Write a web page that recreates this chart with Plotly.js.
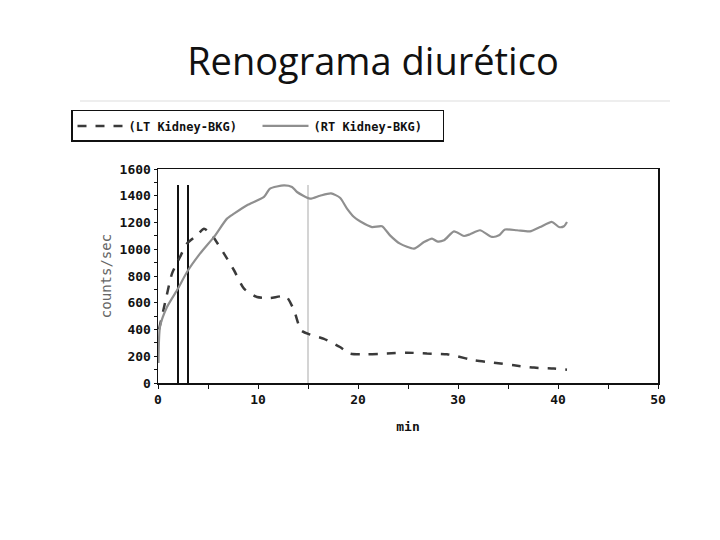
<!DOCTYPE html>
<html>
<head>
<meta charset="utf-8">
<script src="https://cdn.plot.ly/plotly-3.0.1.min.js"></script>
<style>html,body{margin:0;padding:0;background:#fff;}#chart{width:720px;height:540px;}</style>
</head>
<body>
<div id="chart"></div>
<script>
// LT Kidney-BKG (dashed)
const ltMin = [0.1, 0.8, 1.4, 2.2, 2.9, 3.9, 4.6, 5.4, 6.6, 7.6, 8.6, 9.9, 11.2, 12.8, 13.6, 14.3, 15.2, 16.6, 18.2, 19.2, 20.9, 22.9, 24.9, 26.9, 28.9, 29.9, 31.6, 33.6, 35.6, 37.6, 39.6, 40.9];
const ltCounts = [400, 631, 818, 942, 1042, 1104, 1154, 1104, 967, 843, 706, 643, 636, 648, 544, 394, 362, 330, 269, 220, 215, 220, 227, 220, 215, 200, 170, 152, 132, 115, 108, 100];
// RT Kidney-BKG (solid gray)
const rtMin = [0.05, 0.2, 0.9, 2.0, 2.9, 4.2, 5.6, 6.9, 7.6, 8.9, 10.6, 11.2, 12.6, 13.4, 13.9, 15.2, 16.2, 17.3, 18.2, 18.9, 19.6, 20.2, 21.4, 22.4, 23.2, 24.2, 25.6, 26.6, 27.4, 27.9, 28.6, 29.6, 30.6, 31.2, 32.2, 33.4, 34.1, 34.7, 35.9, 37.2, 38.2, 39.4, 40.1, 40.6, 40.9];
const rtCounts = [150, 420, 568, 706, 830, 967, 1092, 1229, 1266, 1329, 1391, 1453, 1478, 1466, 1428, 1378, 1400, 1418, 1385, 1304, 1241, 1209, 1166, 1172, 1104, 1042, 1005, 1054, 1080, 1059, 1067, 1134, 1099, 1112, 1142, 1092, 1104, 1147, 1142, 1134, 1166, 1204, 1166, 1172, 1204];
// Marker lines
const blackMarks = [2, 3];
const grayMarks = [15];
const markTop = 1480;
const seriesNames = ["(LT Kidney-BKG)", "(RT Kidney-BKG)"];
const title = "Renograma diurético";
const xTitle = "min";
const yTitle = "counts/sec";

const mono = "DejaVu Sans Mono, monospace";
const traces = [];
blackMarks.forEach(m => traces.push({x:[m,m], y:[0,markTop], mode:'lines', line:{color:'#111', width:2}, showlegend:false, hoverinfo:'skip'}));
grayMarks.forEach(m => traces.push({x:[m,m], y:[0,markTop], mode:'lines', line:{color:'#d4d4d4', width:2}, showlegend:false, hoverinfo:'skip'}));
traces.push({x:ltMin, y:ltCounts, name:seriesNames[0], mode:'lines', line:{color:'#3a3a3a', width:2.5, dash:'dash', shape:'spline', smoothing:0.6}});
traces.push({x:rtMin, y:rtCounts, name:seriesNames[1], mode:'lines', line:{color:'#8f8f8f', width:2.2, shape:'spline', smoothing:0.6}});

const layout = {
  width:720, height:540,
  paper_bgcolor:'#fff', plot_bgcolor:'#fff',
  margin:{l:158, r:62, t:169, b:157},
  title:{text:title, font:{family:'Open Sans, sans-serif', size:38, color:'#111'}, x:0.518, xanchor:'center', y:1-62/540, yref:'container', yanchor:'middle'},
  showlegend:true,
  legend:{orientation:'h', x:-0.174, xanchor:'left', y:1.276, yanchor:'top', bordercolor:'#111', borderwidth:1.5,
          font:{family:mono, size:12, color:'#111', weight:'bold'}, itemwidth:46, entrywidth:124, entrywidthmode:'pixels', traceorder:'normal', bgcolor:'#fff'},
  xaxis:{range:[0,50], dtick:10, tick0:0, ticks:'outside', ticklen:4, tickwidth:1, tickcolor:'#111',
         minor:{dtick:5, ticks:'outside', ticklen:4, tickcolor:'#111'},
         showline:true, linecolor:'#111', linewidth:1.5, mirror:true, showgrid:false, zeroline:false,
         tickfont:{family:mono, size:13, color:'#111', weight:'bold'},
         title:{text:xTitle, font:{family:mono, size:13, color:'#111', weight:'bold'}, standoff:16}},
  yaxis:{range:[0,1600], dtick:200, tick0:0, ticks:'outside', ticklen:3, tickwidth:1, tickcolor:'#111',
         minor:{dtick:100, ticks:'outside', ticklen:3, tickcolor:'#111'},
         showline:true, linecolor:'#111', linewidth:1.5, mirror:true, showgrid:false, zeroline:false,
         tickfont:{family:mono, size:13, color:'#111', weight:'bold'},
         title:{text:yTitle, font:{family:mono, size:14, color:'#666'}, standoff:4}},
  shapes:[{type:'line', xref:'paper', yref:'paper', x0:-0.156, x1:1.024, y0:(383-101)/214, y1:(383-101)/214, line:{color:'#eeeeee', width:2}}]
};
Plotly.newPlot('chart', traces, layout, {staticPlot:true});
</script>
</body>
</html>
